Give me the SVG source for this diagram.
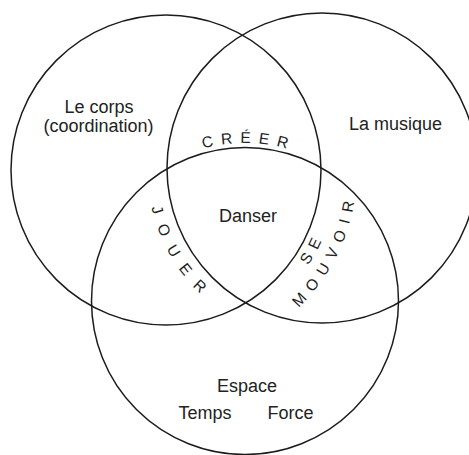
<svg xmlns="http://www.w3.org/2000/svg" width="469" height="455" viewBox="0 0 469 455">
  <style>
    .ring { fill: none; stroke: #1c1c1c; stroke-width: 1.5; }
    .lbl { font-family: "Liberation Sans", Arial, sans-serif; font-size: 18px; fill: #222; text-anchor: middle; }
    .arc { font-family: "Liberation Sans", Arial, sans-serif; font-size: 15.5px; fill: #222; text-anchor: middle; }
  </style>
  <defs>
    <path id="p-creer" d="M143.4,180 A158,158 0 0,1 346.6,180"/>
    <path id="p-jouer" d="M149.9,136.1 A175,175 0 0,0 260.7,331.9"/>
    <path id="p-mouvoir" d="M237.9,347 A191,191 0 0,0 352.8,130"/>
    <path id="p-se" d="M253.6,316.9 A171,171 0 0,0 337,167.6"/>
  </defs>
  <rect width="469" height="455" fill="#fff"/>
  <g id="corps">
    <circle class="ring" cx="166" cy="170" r="155"/>
    <text class="lbl" x="99" y="112.5">Le corps</text>
    <text class="lbl" x="98.5" y="132">(coordination)</text>
  </g>
  <g id="musique">
    <circle class="ring" cx="322" cy="168" r="155"/>
    <text class="lbl" x="395.5" y="129.5">La musique</text>
  </g>
  <g id="espace">
    <circle class="ring" cx="245" cy="301" r="153.5"/>
    <text class="lbl" x="247" y="391.5">Espace</text>
    <text class="lbl" x="205" y="419">Temps</text>
    <text class="lbl" x="290.5" y="419">Force</text>
  </g>
  <g id="danser">
    <text class="lbl" x="248" y="221.5">Danser</text>
  </g>
  <g id="creer">
    <text class="arc" letter-spacing="7.6"><textPath href="#p-creer" startOffset="114.1">CRÉER</textPath></text>
  </g>
  <g id="jouer">
    <text class="arc" letter-spacing="12"><textPath href="#p-jouer" startOffset="128.2">JOUER</textPath></text>
  </g>
  <g id="se-mouvoir">
    <text class="arc" letter-spacing="7.2"><textPath href="#p-se" startOffset="93">SE</textPath></text>
    <text class="arc" letter-spacing="7.9"><textPath href="#p-mouvoir" startOffset="137.3">MOUVOIR</textPath></text>
  </g>
</svg>
